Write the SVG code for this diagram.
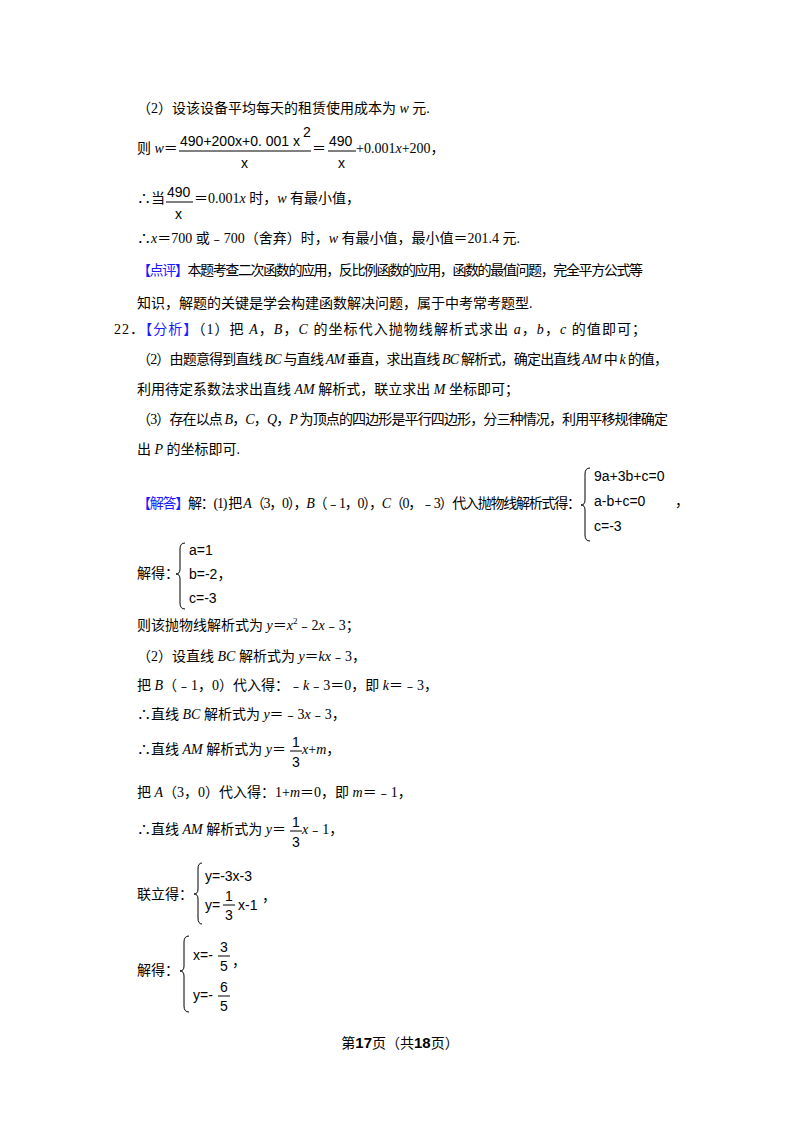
<svg xmlns="http://www.w3.org/2000/svg" width="800" height="1132" viewBox="0 0 800 1132">
<style>
text{font-family:"Liberation Serif","Noto Sans CJK SC",serif;font-size:14px;fill:#000}
.s{font-family:"Liberation Sans","Noto Sans CJK SC",sans-serif;font-size:14px}
.b{fill:#1a1aff}
.i{font-style:italic}
.br{fill:none;stroke:#000;stroke-width:1}
.f{stroke:#000;stroke-width:1}
</style>
<rect width="800" height="1132" fill="#fff"/>
<g id="text">
<text x="137" y="113">（2）设该设备平均每天的租赁使用成本为 <tspan class="i">w</tspan> 元.</text>
<text x="137" y="153">则 <tspan class="i">w</tspan>＝</text>
<text class="s" x="180" y="146" textLength="120">490+200x+0. 001 x</text><text class="s" x="303" y="137" font-size="11">2</text>
<line class="f" x1="179" y1="151" x2="311" y2="151"/>
<text class="s" x="241" y="168">x</text>
<text x="312" y="153">＝</text>
<line class="f" x1="328" y1="151" x2="356" y2="151"/>
<text class="s" x="329" y="146">490</text>
<text class="s" x="338" y="168">x</text>
<text x="356" y="153">+0.001<tspan class="i">x</tspan>+200，</text>
<text x="137" y="203">∴当</text>
<text class="s" x="167" y="197">490</text>
<line class="f" x1="166" y1="202" x2="193" y2="202"/>
<text class="s" x="175" y="219">x</text>
<text x="194" y="203">＝0.001<tspan class="i">x</tspan> 时，<tspan class="i">w</tspan> 有最小值，</text>
<text x="137" y="243">∴<tspan class="i">x</tspan>＝700 或﹣700（舍弃）时，<tspan class="i">w</tspan> 有最小值，最小值＝201.4 元.</text>
<text x="137" y="275" textLength="506"><tspan class="b">【点评】</tspan>本题考查二次函数的应用，反比例函数的应用，函数的最值问题，完全平方公式等</text>
<text x="137" y="308">知识，解题的关键是学会构建函数解决问题，属于中考常考题型.</text>
<text x="114" y="334" textLength="532">22．<tspan class="b">【分析】</tspan>（1）把 <tspan class="i">A</tspan>，<tspan class="i">B</tspan>，<tspan class="i">C</tspan> 的坐标代入抛物线解析式求出 <tspan class="i">a</tspan>，<tspan class="i">b</tspan>，<tspan class="i">c</tspan> 的值即可；</text>
<text x="137" y="364" textLength="531">（2）由题意得到直线 <tspan class="i">BC</tspan> 与直线 <tspan class="i">AM</tspan> 垂直，求出直线 <tspan class="i">BC</tspan> 解析式，确定出直线 <tspan class="i">AM</tspan> 中 <tspan class="i">k</tspan> 的值，</text>
<text x="137" y="394">利用待定系数法求出直线 <tspan class="i">AM</tspan> 解析式，联立求出 <tspan class="i">M</tspan> 坐标即可；</text>
<text x="137" y="424" textLength="531">（3）存在以点 <tspan class="i">B</tspan>，<tspan class="i">C</tspan>，<tspan class="i">Q</tspan>，<tspan class="i">P</tspan> 为顶点的四边形是平行四边形，分三种情况，利用平移规律确定</text>
<text x="137" y="454">出 <tspan class="i">P</tspan> 的坐标即可.</text>
<text x="137" y="508" textLength="444"><tspan class="b">【解答】</tspan>解：(1) 把 <tspan class="i">A</tspan>（3，0），<tspan class="i">B</tspan>（﹣1，0），<tspan class="i">C</tspan>（0，﹣3）代入抛物线解析式得：</text>
<path class="br" d="M590,468 Q585,468 585,474 L585,500 Q585,505 581,505 Q585,505 585,510 L585,535 Q585,541 590,541"/>
<text class="s" x="594" y="481">9a+3b+c=0</text>
<text class="s" x="594" y="506">a-b+c=0</text>
<text class="s" x="675" y="506">，</text>
<text class="s" x="594" y="531">c=-3</text>
<text x="137" y="578">解得：</text>
<path class="br" d="M185,543 Q180,543 180,549 L180,569 Q180,574 176,574 Q180,574 180,579 L180,603 Q180,609 185,609"/>
<text class="s" x="189" y="555">a=1</text>
<text class="s" x="189" y="579">b=-2，</text>
<text class="s" x="189" y="603">c=-3</text>
<text x="137" y="630">则该抛物线解析式为 <tspan class="i">y</tspan>＝<tspan class="i">x</tspan><tspan font-size="9" dy="-6">2</tspan><tspan dy="6">﹣2</tspan><tspan class="i">x</tspan>﹣3；</text>
<text x="137" y="661">（2）设直线 <tspan class="i">BC</tspan> 解析式为 <tspan class="i">y</tspan>＝<tspan class="i">kx</tspan>﹣3，</text>
<text x="137" y="690">把 <tspan class="i">B</tspan>（﹣1，0）代入得：﹣<tspan class="i">k</tspan>﹣3＝0，即 <tspan class="i">k</tspan>＝﹣3，</text>
<text x="137" y="719">∴直线 <tspan class="i">BC</tspan> 解析式为 <tspan class="i">y</tspan>＝﹣3<tspan class="i">x</tspan>﹣3，</text>
<text x="137" y="754">∴直线 <tspan class="i">AM</tspan> 解析式为 <tspan class="i">y</tspan>＝</text>
<text class="s" x="292" y="747">1</text>
<line class="f" x1="290" y1="751" x2="302" y2="751"/>
<text class="s" x="292" y="767">3</text>
<text x="302" y="754"><tspan class="i">x</tspan>+<tspan class="i">m</tspan>，</text>
<text x="137" y="797">把 <tspan class="i">A</tspan>（3，0）代入得：1+<tspan class="i">m</tspan>＝0，即 <tspan class="i">m</tspan>＝﹣1，</text>
<text x="137" y="834">∴直线 <tspan class="i">AM</tspan> 解析式为 <tspan class="i">y</tspan>＝</text>
<text class="s" x="292" y="827">1</text>
<line class="f" x1="290" y1="831" x2="302" y2="831"/>
<text class="s" x="292" y="847">3</text>
<text x="302" y="834"><tspan class="i">x</tspan>﹣1，</text>
<text x="137" y="899">联立得：</text>
<path class="br" d="M202,863 Q198,863 198,869 L198,889 Q198,894 194,894 Q198,894 198,899 L198,918 Q198,924 202,924"/>
<text class="s" x="205" y="881">y=-3x-3</text>
<text class="s" x="205" y="910">y=</text>
<text class="s" x="225" y="901">1</text>
<line class="f" x1="223" y1="905" x2="235" y2="905"/>
<text class="s" x="225" y="920">3</text>
<text class="s" x="238" y="910">x-1</text>
<text class="s" x="262" y="901">，</text>
<text x="137" y="975">解得：</text>
<path class="br" d="M189,936 Q184,936 184,942 L184,966 Q184,971 180,971 Q184,971 184,976 L184,1006 Q184,1012 189,1012"/>
<text class="s" x="193" y="960">x=-</text>
<text class="s" x="220" y="952">3</text>
<line class="f" x1="218" y1="956" x2="230" y2="956"/>
<text class="s" x="220" y="971">5</text>
<text class="s" x="232" y="966">，</text>
<text class="s" x="193" y="1000">y=-</text>
<text class="s" x="220" y="992">6</text>
<line class="f" x1="218" y1="996" x2="230" y2="996"/>
<text class="s" x="220" y="1011">5</text>
<text x="400" y="1048" text-anchor="middle" font-size="13">第<tspan font-weight="bold" font-family="Liberation Sans,sans-serif" font-size="15">17</tspan>页（共<tspan font-weight="bold" font-family="Liberation Sans,sans-serif" font-size="15">18</tspan>页）</text>
</g>
</svg>
